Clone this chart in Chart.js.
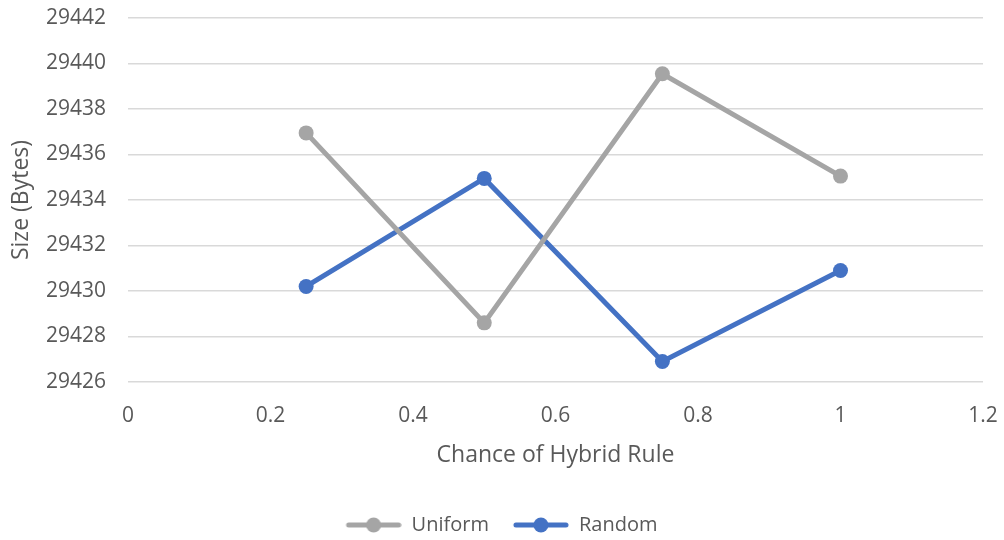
<!DOCTYPE html>
<html>
<head>
<meta charset="utf-8">
<script src="https://cdn.jsdelivr.net/npm/chart.js@4/dist/chart.umd.min.js"></script>
<style>
  html, body { margin: 0; padding: 0; background: #fff; }
  #wrap { width: 1004px; height: 540px; }
</style>
</head>
<body>
<div id="wrap"><canvas id="chart" width="1004" height="540"></canvas></div>
<script>
// chance of hybrid rule (x values)
const chances = [0.25, 0.5, 0.75, 1];
const uniformSizes = [29436.95, 29428.6, 29439.55, 29435.05];
const randomSizes = [29430.2, 29434.95, 29426.9, 29430.9];
const xTicks = [0, 0.2, 0.4, 0.6, 0.8, 1, 1.2];
const yTicks = [29426, 29428, 29430, 29432, 29434, 29436, 29438, 29440, 29442];

const GRAY = '#A5A5A5';
const BLUE = '#4472C4';
const TEXT = '#595959';
const FONT = "'Open Sans', 'Liberation Sans', sans-serif";
const ICON_GAP = 20;

// line + dot icon for the legend, like the spreadsheet one
// (blank strip on the left gives the space between the two entries)
function legendIcon(color) {
    const c = document.createElement('canvas');
    c.width = 56 + ICON_GAP; c.height = 18;
    const g = c.getContext('2d');
    g.strokeStyle = color;
    g.lineWidth = 5;
    g.lineCap = 'round';
    g.beginPath();
    g.moveTo(ICON_GAP + 3, 9); g.lineTo(ICON_GAP + 53, 9);
    g.stroke();
    g.fillStyle = color;
    g.beginPath();
    g.arc(ICON_GAP + 28, 9, 7.5, 0, Math.PI * 2);
    g.fill();
    return c;
}

function toPoints(xs, ys) {
    return xs.map((x, i) => ({ x: x, y: ys[i] }));
}

document.addEventListener('DOMContentLoaded', function() {
    const ctx = document.getElementById('chart').getContext('2d');
    new Chart(ctx, {
        type: 'scatter',
        data: {
            datasets: [
                {
                    label: 'Uniform',
                    data: toPoints(chances, uniformSizes),
                    borderColor: GRAY,
                    backgroundColor: GRAY,
                    showLine: true,
                    borderWidth: 5,
                    pointStyle: 'circle',
                    pointRadius: 7.5,
                    pointBorderWidth: 0,
                    pointHoverRadius: 7.5
                },
                {
                    label: 'Random',
                    data: toPoints(chances, randomSizes),
                    borderColor: BLUE,
                    backgroundColor: BLUE,
                    showLine: true,
                    borderWidth: 5,
                    pointStyle: 'circle',
                    pointRadius: 7.5,
                    pointBorderWidth: 0,
                    pointHoverRadius: 7.5
                }
            ]
        },
        options: {
            responsive: false,
            animation: false,
            layout: { padding: { left: 0, right: 21, top: 18, bottom: -5 } },
            elements: { line: { tension: 0 } },
            plugins: {
                tooltip: { enabled: false },
                legend: {
                    position: 'bottom',
                    labels: {
                        usePointStyle: true,
                        pointStyleWidth: 56 + ICON_GAP,
                        boxHeight: 18,
                        color: TEXT,
                        font: { family: FONT, size: 20 },
                        padding: 4,
                        generateLabels: function(chart) {
                            return chart.data.datasets.map((ds, i) => ({
                                text: ds.label,
                                fillStyle: ds.borderColor,
                                strokeStyle: ds.borderColor,
                                fontColor: TEXT,
                                pointStyle: legendIcon(ds.borderColor),
                                datasetIndex: i,
                                lineWidth: 0
                            }));
                        }
                    }
                }
            },
            scales: {
                x: {
                    type: 'linear',
                    min: 0,
                    max: 1.2,
                    afterBuildTicks: axis => { axis.ticks = xTicks.map(v => ({ value: v })); },
                    grid: { display: false },
                    border: { display: false },
                    ticks: {
                        color: TEXT,
                        font: { family: FONT, size: 21 },
                        padding: 13,
                        callback: v => String(v)
                    },
                    title: {
                        display: true,
                        text: 'Chance of Hybrid Rule',
                        color: TEXT,
                        font: { family: FONT, size: 23 },
                        padding: { top: 8, bottom: 42 }
                    },
                    afterFit: axis => {
                        axis.height = 129;
                        axis.paddingLeft = 0;
                        axis.paddingRight = 0;
                    }
                },
                y: {
                    min: 29426,
                    max: 29442,
                    afterBuildTicks: axis => { axis.ticks = yTicks.map(v => ({ value: v })); },
                    grid: { color: '#D9D9D9', lineWidth: 1.5, drawTicks: false },
                    border: { display: false },
                    ticks: {
                        color: TEXT,
                        font: { family: FONT, size: 21 },
                        padding: 22,
                        callback: v => String(v)
                    },
                    title: {
                        display: true,
                        text: 'Size (Bytes)',
                        color: TEXT,
                        font: { family: FONT, size: 23 },
                        padding: { top: 8, bottom: 4 }
                    },
                    afterFit: axis => {
                        axis.width = 128;
                        axis.paddingTop = 0;
                        axis.paddingBottom = 0;
                    }
                }
            }
        }
    });
});
</script>
</body>
</html>
